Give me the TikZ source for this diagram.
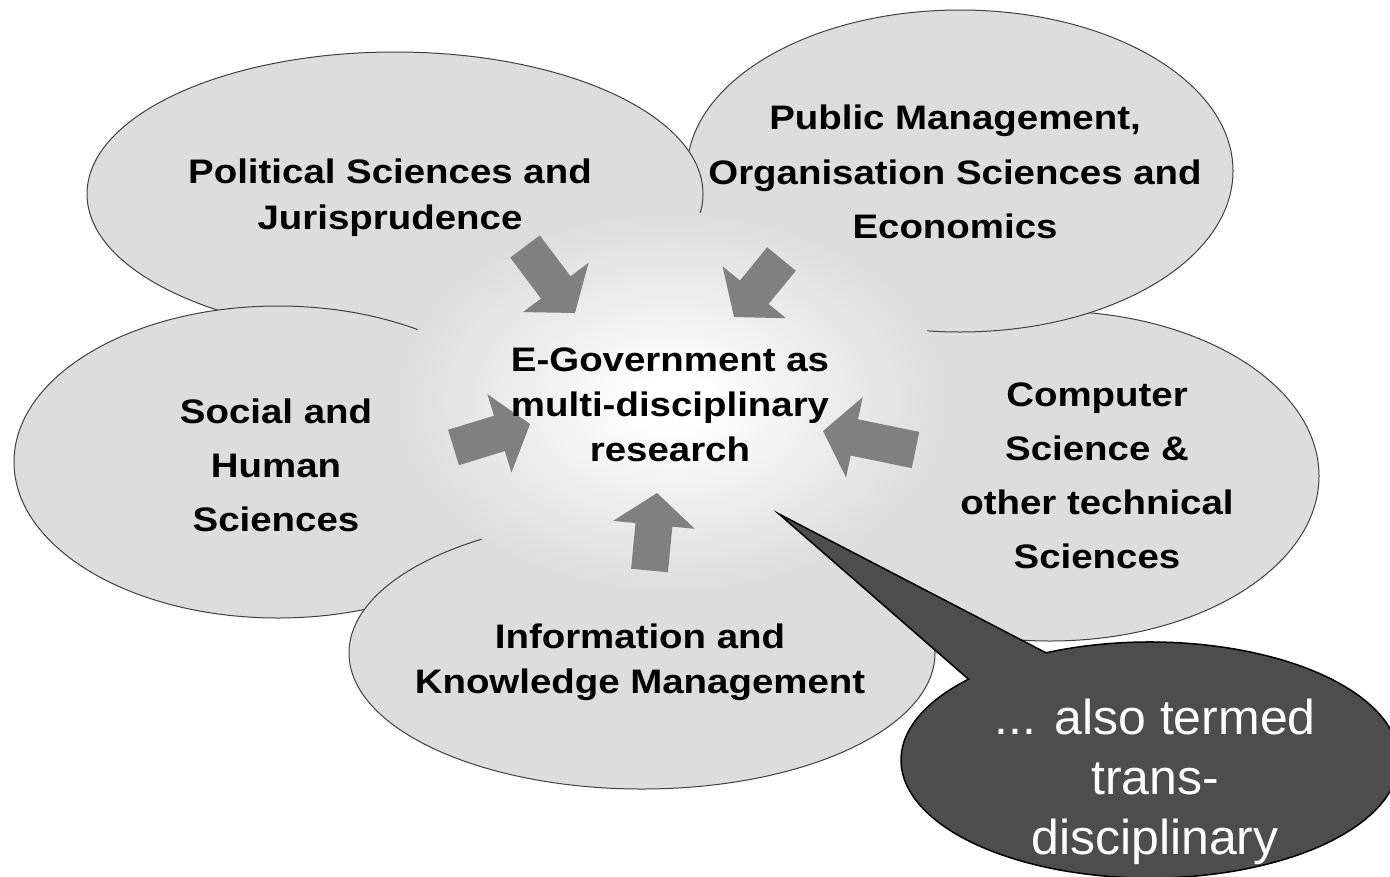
\documentclass[tikz,border=0pt]{standalone}
\usepackage{fontspec}
\setmainfont{Liberation Sans}
\newfontfamily\labelfont{Liberation Sans}[FakeStretch=1.13]
\newfontfamily\callfont{Liberation Sans}[FakeStretch=1.02]
\usetikzlibrary{calc}
\definecolor{ellfill}{RGB}{221,221,221}
\definecolor{glowmid}{RGB}{242,242,242}
\definecolor{ellline}{RGB}{64,64,64}
\definecolor{arrowgray}{RGB}{128,128,128}
\definecolor{calloutfill}{RGB}{77,77,77}
\pgfdeclareradialshading{eglow}{\pgfpoint{0bp}{0bp}}{color(0bp)=(white); color(3bp)=(white); color(11bp)=(glowmid); color(25bp)=(ellfill); color(50bp)=(ellfill)}
\newcommand\drawblockarrow[2]{%
  \coordinate (#1hb) at ($(#2)!32bp!(#1)$);
  \fill[arrowgray] ($(#1)!18.5bp!90:(#2)$) -- ($(#1hb)!18.5bp!90:(#2)$) -- ($(#1hb)!41bp!90:(#2)$)
     -- (#2) -- ($(#1hb)!41bp!-90:(#2)$) -- ($(#1hb)!18.5bp!-90:(#2)$) -- ($(#1)!18.5bp!-90:(#2)$) -- cycle;}
\begin{document}
\begin{tikzpicture}[x=1bp,y=-1bp,
  field/.style={fill=ellfill, draw=ellline, line width=1bp},
  fieldlabel/.style={font=\labelfont\bfseries\fontsize{34bp}{#1}\selectfont, align=center, inner sep=0pt, text=black},
  calltext/.style={font=\callfont\fontsize{49bp}{60bp}\selectfont, align=center, inner sep=0pt, text=white},
  callout/.style={fill=calloutfill, draw=black, line width=1.5bp}]
\path[use as bounding box] (0,0) rectangle (1390,876);
\clip (0,0) rectangle (1390,876);
\fill[white] (0,0) rectangle (1390,876);
% discipline fields
\path[field] (1050,476) ellipse [x radius=269, y radius=165];
\path[field] (960,171) ellipse [x radius=273, y radius=161];
\path[field] (395,194) ellipse [x radius=308, y radius=142];
\path[field] (278,462) ellipse [x radius=264, y radius=156];
\path[field] (642,653) ellipse [x radius=293, y radius=136];
% central glow
\path[shading=eglow] (672,402) ellipse [x radius=275, y radius=190];
% arrows
\coordinate (a1s) at (525,246.5); \coordinate (a1e) at (575,313);
\coordinate (a2s) at (781.5,259); \coordinate (a2e) at (734,317);
\coordinate (a3s) at (453.5,447.5); \coordinate (a3e) at (530,424);
\coordinate (a4s) at (915.5,450); \coordinate (a4e) at (823,431);
\coordinate (a5s) at (649.5,570.5); \coordinate (a5e) at (657,493);
\drawblockarrow{a1s}{a1e}
\drawblockarrow{a2s}{a2e}
\drawblockarrow{a3s}{a3e}
\drawblockarrow{a4s}{a4e}
\drawblockarrow{a5s}{a5e}
% labels
\node[fieldlabel=46bp] (political) at (390,198) {Political Sciences and\\Jurisprudence};
\node[fieldlabel=54.5bp] (public) at (955,172) {Public Management,\\Organisation Sciences and\\Economics};
\node[fieldlabel=54bp] (social) at (276,465) {Social and\\Human\\Sciences};
\node[fieldlabel=54bp] (computer) at (1097,476) {Computer\\Science \&\\other technical\\Sciences};
\node[fieldlabel=45bp] (info) at (640,662) {Information and\\Knowledge Management};
\node[fieldlabel=45bp] (egov) at (670,405) {E-Government as\\multi-disciplinary\\research};
% callout
\coordinate (cc) at (1150,760);
\coordinate (tip) at (779,514);
\path[callout] ($(cc)+(245.3:249 and 118)$) arc[start angle=245.3, end angle=583.2, x radius=249, y radius=118] -- (tip) -- cycle;
\node[calltext] (note) at (1155,782) {... also termed\\trans-\\disciplinary};
\end{tikzpicture}
\end{document}
